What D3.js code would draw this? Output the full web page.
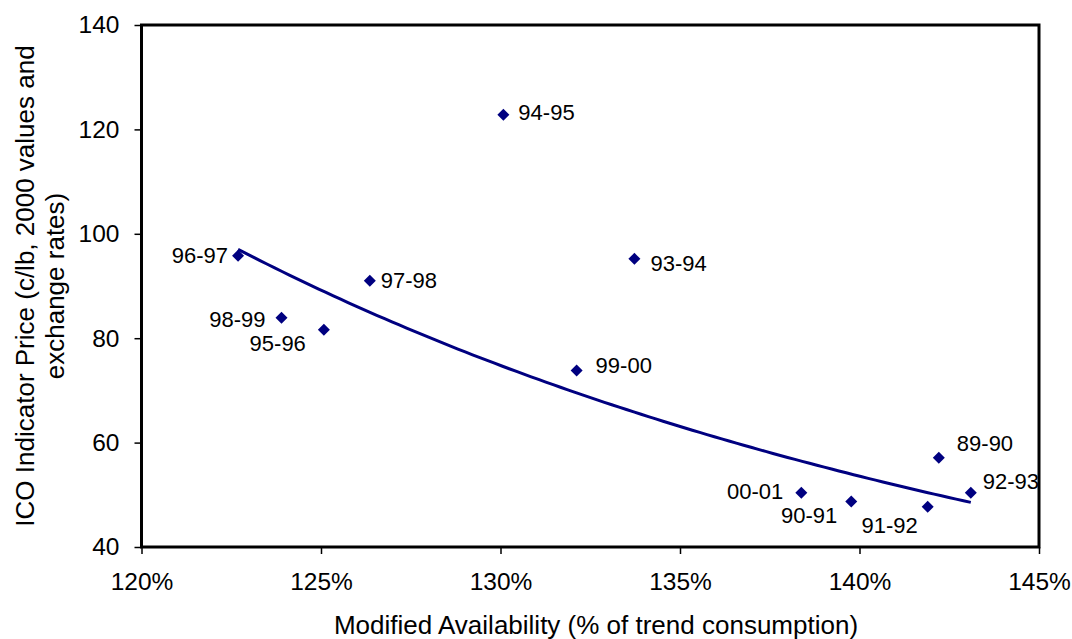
<!DOCTYPE html>
<html>
<head>
<meta charset="utf-8">
<script src="https://cdn.jsdelivr.net/npm/d3@7"></script>
<style>
  html, body { margin: 0; padding: 0; background: #fff; }
  svg { display: block; font-family: "Liberation Sans", Arial, sans-serif; }
</style>
</head>
<body>
<svg id="chart" width="1072" height="639"></svg>
<script>
// ---- Data ----
const seasons      = ["89-90", "90-91", "91-92", "92-93", "93-94", "94-95", "95-96", "96-97", "97-98", "98-99", "99-00", "00-01"];
const availability = [1.4221, 1.3977, 1.4190, 1.4310, 1.3373, 1.3008, 1.2508, 1.2269, 1.2636, 1.2390, 1.3212, 1.3838];
const price        = [57.1, 48.7, 47.7, 50.4, 95.2, 122.8, 81.6, 95.8, 91.0, 83.9, 73.8, 50.4];
const xTickValues  = [1.20, 1.25, 1.30, 1.35, 1.40, 1.45];
const yTickValues  = [40, 60, 80, 100, 120, 140];
// Power trendline (price = a * availability^b), coefficients
const trendA = 243.5;
const trendB = -4.5;
const trendRange = [1.2269, 1.4310];

// ---- Layout (label offsets in px relative to the marker) ----
const labelLayout = {
  "89-90": { dx: 18,  dy: -14.5, anchor: "start" },
  "90-91": { dx: -14, dy: 14,    anchor: "end" },
  "91-92": { dx: -10, dy: 18,    anchor: "end" },
  "92-93": { dx: 12,  dy: -11,   anchor: "start" },
  "93-94": { dx: 16,  dy: 4.5,   anchor: "start" },
  "94-95": { dx: 15,  dy: -2,    anchor: "start" },
  "95-96": { dx: -18, dy: 13.5,  anchor: "end" },
  "96-97": { dx: -10, dy: 0,     anchor: "end" },
  "97-98": { dx: 11,  dy: 0,     anchor: "start" },
  "98-99": { dx: -16, dy: 1.5,   anchor: "end" },
  "99-00": { dx: 19,  dy: -5,    anchor: "start" },
  "00-01": { dx: -18, dy: -1,    anchor: "end" }
};

const svg = d3.select("#chart");
const L = 141.5, R = 1039, T = 25, B = 547;
const navy = "#000080";
const FONT = "'Liberation Sans', Arial, sans-serif";

const x = d3.scaleLinear().domain([1.20, 1.45]).range([L, R]);
const y = d3.scaleLinear().domain([40, 140]).range([B, T]);

// Axes
const xAxis = d3.axisBottom(x).tickValues(xTickValues).tickFormat(d3.format(".0%")).tickSize(7).tickPadding(19);
const yAxis = d3.axisLeft(y).tickValues(yTickValues).tickFormat(d3.format("d")).tickSize(7).tickPadding(15);

const gx = svg.append("g").attr("transform", `translate(0,${B})`).call(xAxis);
const gy = svg.append("g").attr("transform", `translate(${L},0)`).call(yAxis);
[gx, gy].forEach(g => {
  g.select(".domain").remove();
  g.selectAll(".tick line").attr("stroke", "#000").attr("stroke-width", 1.5);
  g.selectAll(".tick text").attr("fill", "#000").style("font-size", "24.5px").style("font-family", FONT);
});

// Frame
svg.append("rect")
  .attr("x", L).attr("y", T).attr("width", R - L).attr("height", B - T)
  .attr("fill", "none").attr("stroke", "#000").attr("stroke-width", 3);

// Trendline
const trendXs = d3.range(0, 101).map(i => trendRange[0] + (trendRange[1] - trendRange[0]) * i / 100);
svg.append("path")
  .datum(trendXs)
  .attr("fill", "none").attr("stroke", navy).attr("stroke-width", 3)
  .attr("d", d3.line().x(d => x(d)).y(d => y(trendA * Math.pow(d, trendB))));

// Markers
const pts = seasons.map((s, i) => ({ s, a: availability[i], p: price[i] }));
svg.append("g").selectAll("path").data(pts).join("path")
  .attr("transform", d => `translate(${x(d.a)},${y(d.p)})`)
  .attr("d", "M0,-6L6,0L0,6L-6,0Z")
  .attr("fill", navy);

// Labels
svg.append("g").selectAll("text").data(pts).join("text")
  .attr("x", d => x(d.a) + labelLayout[d.s].dx)
  .attr("y", d => y(d.p) + labelLayout[d.s].dy)
  .attr("dy", "0.35em")
  .attr("text-anchor", d => labelLayout[d.s].anchor)
  .style("font-size", "22px")
  .attr("fill", "#000")
  .text(d => d.s);

// Axis titles
svg.append("text")
  .attr("x", 596).attr("y", 634)
  .attr("text-anchor", "middle")
  .style("font-size", "26px")
  .text("Modified Availability (% of trend consumption)");

const yt = svg.append("text")
  .attr("transform", `translate(34,${(T + B) / 2}) rotate(-90)`)
  .attr("text-anchor", "middle")
  .style("font-size", "26px");
yt.append("tspan").attr("x", 0).attr("y", 0).text("ICO Indicator Price (c/lb, 2000 values and");
yt.append("tspan").attr("x", 0).attr("y", 30).text("exchange rates)");
</script>
</body>
</html>
